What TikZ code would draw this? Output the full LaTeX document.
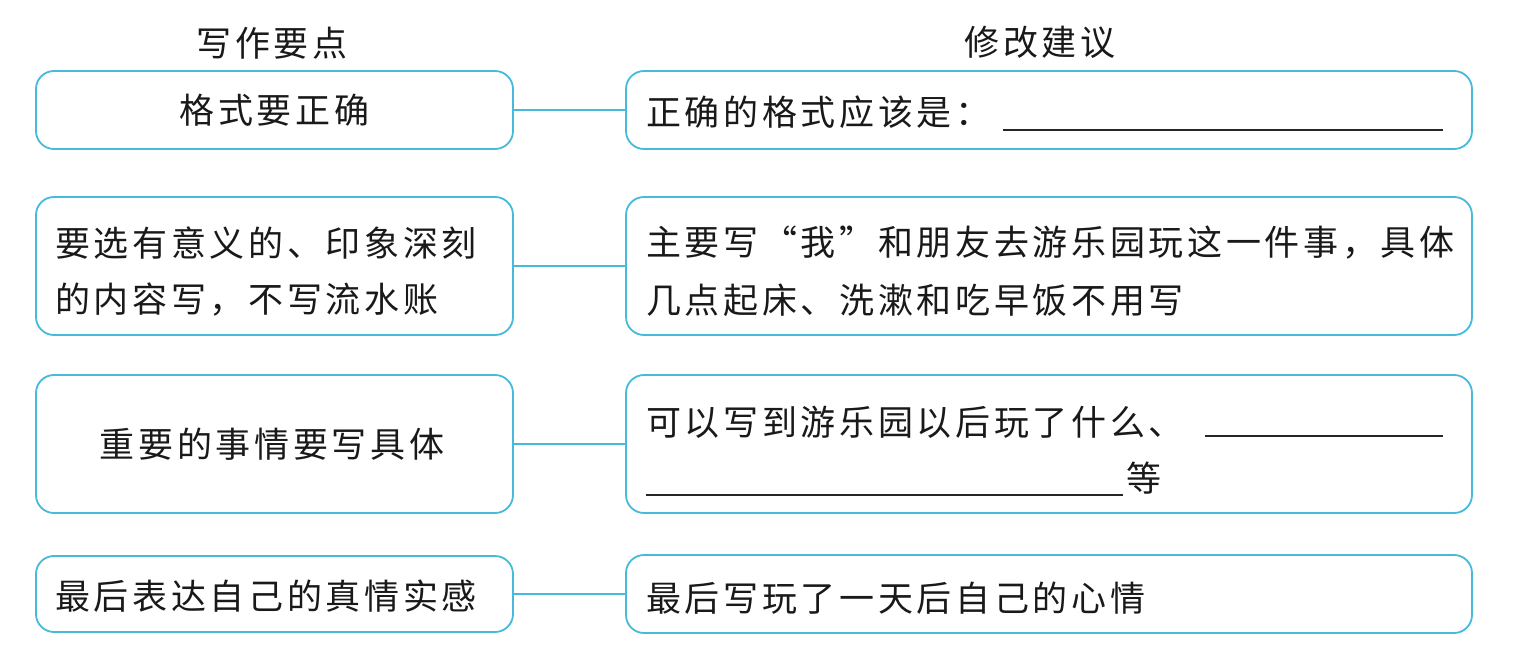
\documentclass[tikz,border=0pt]{standalone}
\usepackage{fontspec}
\setmainfont{Noto Sans CJK SC}[LetterSpace=10.5]
\usetikzlibrary{positioning}
\definecolor{boxc}{HTML}{45BADB}
\tikzset{
  box/.style={draw=boxc, line width=1.8pt, rounded corners=18pt, inner sep=0pt},
  txt/.style={anchor=west, inner sep=0pt, font=\fontsize{35}{40}\selectfont, text=black!90},
  ctxt/.style={inner sep=0pt, font=\fontsize{35}{40}\selectfont, text=black!90},
  conn/.style={draw=boxc, line width=2pt},
  blank/.style={draw=black!85, line width=1.6pt}
}
\begin{document}
\begin{tikzpicture}[x=1pt,y=-1pt]
\useasboundingbox (0,0) rectangle (1518,650);
% headings
\node[ctxt] (h1) at (272,43) {写作要点};
\node[ctxt] (h2) at (1040,42) {修改建议};
% left boxes
\node[box, minimum width=477pt, minimum height=78pt] (l1) at (274.5,110) {};
\node[box, minimum width=477pt, minimum height=138pt] (l2) at (274.5,266) {};
\node[box, minimum width=477pt, minimum height=138pt] (l3) at (274.5,444) {};
\node[box, minimum width=477pt, minimum height=76pt] (l4) at (274.5,594) {};
% right boxes
\node[box, minimum width=846pt, minimum height=78pt] (r1) at (1049,110) {};
\node[box, minimum width=846pt, minimum height=138pt] (r2) at (1049,266) {};
\node[box, minimum width=846pt, minimum height=138pt] (r3) at (1049,444) {};
\node[box, minimum width=846pt, minimum height=78pt] (r4) at (1049,594) {};
% connectors
\draw[conn] (l1.east) -- (r1.west);
\draw[conn] (l2.east) -- (r2.west);
\draw[conn] (l3.east) -- (r3.west);
\draw[conn] (l4.east) -- (r4.west);
% left texts
\node[ctxt] (t1) at (l1.center) {格式要正确};
\node[txt] (t2a) at (55,243) {要选有意义的、印象深刻};
\node[txt] (t2b) at (55,300) {的内容写，不写流水账};
\node[ctxt] (t3) at (272,444) {重要的事情要写具体};
\node[txt] (t4) at (55,596) {最后表达自己的真情实感};
% right texts
\node[txt] (s1) at (646,112) {正确的格式应该是：};
\coordinate (b1s) at (1003,130);
\coordinate (b1e) at (1443,130);
\draw[blank] (b1s) -- (b1e);
\node[txt] (s2a) at (646,243) {主要写“我”和朋友去游乐园玩这一件事，具体};
\node[txt] (s2b) at (646,300) {几点起床、洗漱和吃早饭不用写};
\node[txt] (s3a) at (646,422) {可以写到游乐园以后玩了什么、};
\coordinate (b2s) at (1205,436);
\coordinate (b2e) at (1443,436);
\draw[blank] (b2s) -- (b2e);
\coordinate (b3s) at (646,495);
\coordinate (b3e) at (1123,495);
\draw[blank] (b3s) -- (b3e);
\node[txt] (s3b) at (1126,478) {等};
\node[txt] (s4) at (646,598) {最后写玩了一天后自己的心情};
\end{tikzpicture}
\end{document}
